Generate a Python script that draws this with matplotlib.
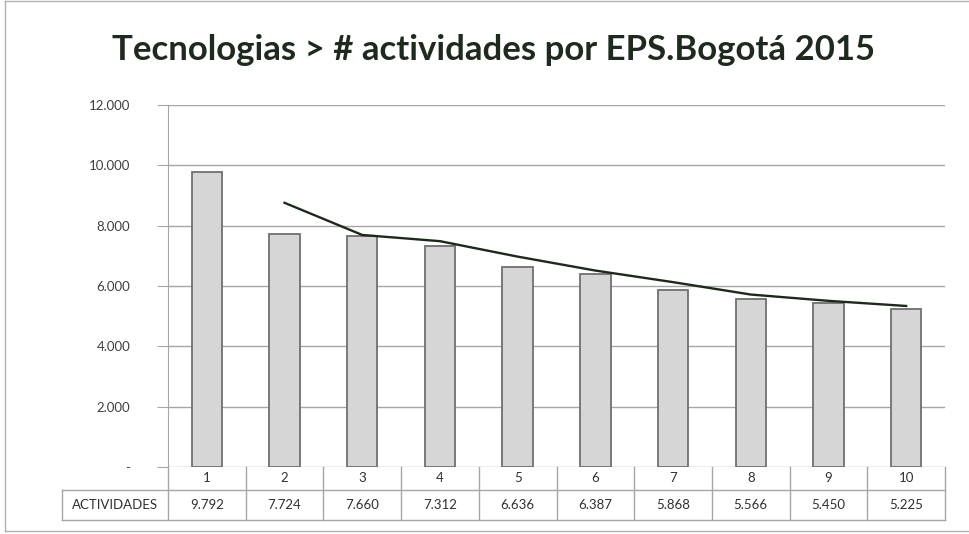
import matplotlib.pyplot as plt
from matplotlib.lines import Line2D

# Datos
categorias = ['1', '2', '3', '4', '5', '6', '7', '8', '9', '10']
actividades = [9792, 7724, 7660, 7312, 6636, 6387, 5868, 5566, 5450, 5225]
# Línea de tendencia (media móvil de 2 periodos), desde la categoría 2
tendencia_x = [1, 2, 3, 4, 5, 6, 7, 8, 9]
tendencia = [8758, 7692, 7486, 6974, 6512, 6128, 5717, 5508, 5338]
yticks = [0, 2000, 4000, 6000, 8000, 10000, 12000]
ytick_labels = ['-', '2.000', '4.000', '6.000', '8.000', '10.000', '12.000']
etiqueta_fila = 'ACTIVIDADES'

def miles(v):
    return f'{v:,}'.replace(',', '.')

W, H = 970, 534
fig = plt.figure(figsize=(W / 100, H / 100), dpi=100)
fig.patch.set_facecolor('white')

x0, x1, ytop, ybot = 168, 945, 105, 467
ax = fig.add_axes([x0 / W, 1 - ybot / H, (x1 - x0) / W, (ybot - ytop) / H])

gris = '#a6a6a6'
texto = '#303030'
x = list(range(len(categorias)))
ax.bar(x, actividades, width=0.39, color='#d6d6d6', edgecolor='#707070', linewidth=1.3, zorder=3)
ax.plot(tendencia_x, tendencia, color='#1c2a1c', linewidth=1.7, zorder=4)

ax.set_xlim(-0.5, len(categorias) - 0.5)
ax.set_ylim(0, 12000)
ax.set_yticks(yticks)
ax.set_yticklabels(ytick_labels, fontsize=9.5, color='#404040', family='Lato')
ax.tick_params(axis='y', length=8, color=gris, pad=19)
ax.set_xticks([])
ax.grid(axis='y', color=gris, linewidth=1, zorder=0)
for s in ['top', 'right', 'bottom']:
    ax.spines[s].set_visible(False)
ax.spines['left'].set_color(gris)

# Tabla de datos debajo del eje
px = ybot - ytop
r1 = -23 / px
r2 = -53 / px
xl = -0.5 - (x0 - 62) / ((x1 - x0) / len(categorias))
tr = ax.get_xaxis_transform()
kw = dict(transform=tr, color=gris, linewidth=1, clip_on=False)
ax.add_line(Line2D([xl, 9.5], [r1, r1], **kw))
ax.add_line(Line2D([xl, 9.5], [r2, r2], **kw))
ax.add_line(Line2D([xl, xl], [r1, r2], **kw))
for i in range(len(categorias) + 1):
    ax.add_line(Line2D([i - 0.5, i - 0.5], [0, r2], **kw))
for i, (c, v) in enumerate(zip(categorias, actividades)):
    ax.text(i, r1 / 2, c, transform=tr, ha='center', va='center', fontsize=9.5,
            color=texto, family='Lato')
    ax.text(i, (r1 + r2) / 2, miles(v), transform=tr, ha='center', va='center',
            fontsize=9.5, color=texto, family='Lato')
ax.text((xl - 0.5) / 2, (r1 + r2) / 2, etiqueta_fila, transform=tr, ha='center',
        va='center', fontsize=9.5, color=texto, family='Lato')

fig.text(494 / W, 1 - 50 / H, 'Tecnologias > # actividades por EPS.Bogotá 2015',
         ha='center', va='center', fontsize=25, fontweight='bold',
         color='#1e2a1e', family='Lato')

# Marco del gráfico
for xs, ys in [([5 / W, 5 / W], [0.005, 0.998]), ([5 / W, 1], [0.005, 0.005]),
               ([5 / W, 1], [0.998, 0.998])]:
    fig.add_artist(Line2D(xs, ys, transform=fig.transFigure, color='#b0b0b0', linewidth=1))

fig.savefig('out.png', dpi=100)
